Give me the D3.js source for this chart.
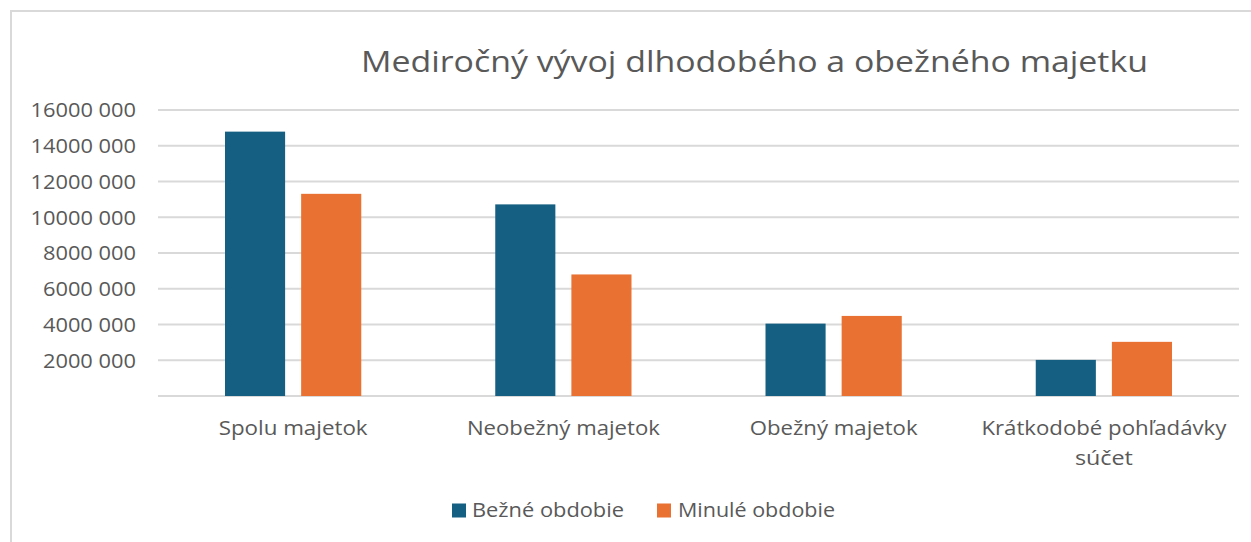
<!DOCTYPE html>
<html>
<head>
<meta charset="utf-8">
<script src="https://cdn.jsdelivr.net/npm/d3@7"></script>
<style>
  html, body { margin: 0; padding: 0; background: #fff; }
  svg { display: block; }
  text { font-family: "Open Sans", "Noto Sans", sans-serif; fill: #595959; }
</style>
</head>
<body>
<svg id="chart" width="1251" height="542"></svg>
<script>
const title = "Mediročný vývoj dlhodobého a obežného majetku";
const categories = ["Spolu majetok", "Neobežný majetok", "Obežný majetok", "Krátkodobé pohľadávky súčet"];
const categoryLines = [["Spolu majetok"], ["Neobežný majetok"], ["Obežný majetok"], ["Krátkodobé pohľadávky", "súčet"]];
const seriesNames = ["Bežné obdobie", "Minulé obdobie"];
const bezneObdobie = [14790000, 10720000, 4050000, 2020000];
const minuleObdobie = [11310000, 6800000, 4480000, 3030000];
const tickValues = [2000000, 4000000, 6000000, 8000000, 10000000, 12000000, 14000000, 16000000];
const tickLabels = ["2000 000", "4000 000", "6000 000", "8000 000", "10000 000", "12000 000", "14000 000", "16000 000"];
const gridValues = [0, 2000000, 4000000, 6000000, 8000000, 10000000, 12000000, 14000000, 16000000];
const colors = ["#156082", "#E97132"];

const svg = d3.select("#chart");

// frame
svg.append("rect").attr("x", 11).attr("y", 11).attr("width", 1400).attr("height", 700)
  .attr("fill", "none").attr("stroke", "#d9d9d9").attr("stroke-width", 2);

const plotLeft = 158, plotRight = 1239, plotTop = 110, plotBottom = 396;
const x0 = d3.scaleBand().domain(categories).range([plotLeft, plotRight]).padding(0);
const x1 = d3.scaleBand().domain(seriesNames).range([67, x0.bandwidth() - 67]).paddingInner(16 / 76).paddingOuter(0);
const y = d3.scaleLinear().domain([0, 16000000]).range([plotBottom, plotTop]);

// gridlines
svg.append("g").selectAll("line").data(gridValues).join("line")
  .attr("x1", plotLeft).attr("x2", plotRight)
  .attr("y1", d => y(d)).attr("y2", d => y(d))
  .attr("stroke", "#d9d9d9").attr("stroke-width", 1.8);

// y axis labels
const yAxis = d3.axisLeft(y).tickValues(tickValues)
  .tickFormat((d, i) => tickLabels[i]).tickSize(0).tickPadding(0);
const gy = svg.append("g").attr("transform", `translate(136,0)`).call(yAxis);
gy.select(".domain").remove();
gy.selectAll("text").attr("font-size", 19.5).attr("fill", "#595959")
  .style("font-family", '"Open Sans", sans-serif')
  .attr("dy", "0.35em")
  .each(function () {
    const w = this.getComputedTextLength();
    d3.select(this).attr("textLength", w * 1.12).attr("lengthAdjust", "spacingAndGlyphs");
  });

// bars
const data = categories.map((c, i) => ({ cat: c, vals: [bezneObdobie[i], minuleObdobie[i]] }));
const groups = svg.append("g").selectAll("g").data(data).join("g")
  .attr("transform", d => `translate(${x0(d.cat)},0)`);
groups.selectAll("rect").data(d => d.vals.map((v, j) => ({ s: seriesNames[j], v, j })))
  .join("rect")
  .attr("x", d => x1(d.s)).attr("width", x1.bandwidth())
  .attr("y", d => y(d.v)).attr("height", d => y(0) - y(d.v))
  .attr("fill", d => colors[d.j]);

// category labels
const catWidths = [[149], [193], [168], [245, 58]];
const cg = svg.append("g");
categories.forEach((c, i) => {
  const cx = x0(c) + x0.bandwidth() / 2;
  categoryLines[i].forEach((line, k) => {
    cg.append("text").attr("x", cx).attr("y", 435 + k * 30)
      .attr("text-anchor", "middle").attr("font-size", 19.5)
      .attr("textLength", catWidths[i][k]).attr("lengthAdjust", "spacingAndGlyphs")
      .text(line);
  });
});

// title
svg.append("text").attr("x", 361).attr("y", 72).attr("font-size", 30)
  .attr("textLength", 787).attr("lengthAdjust", "spacingAndGlyphs")
  .text(title);

// legend
const legendItems = [
  { name: seriesNames[0], sx: 452, tx: 472, tw: 152, color: colors[0] },
  { name: seriesNames[1], sx: 657, tx: 678, tw: 157, color: colors[1] }
];
const lg = svg.append("g");
legendItems.forEach(it => {
  lg.append("rect").attr("x", it.sx).attr("y", 503.5).attr("width", 14).attr("height", 14).attr("fill", it.color);
  lg.append("text").attr("x", it.tx).attr("y", 517).attr("font-size", 19.5)
    .attr("textLength", it.tw).attr("lengthAdjust", "spacingAndGlyphs").text(it.name);
});
</script>
</body>
</html>
